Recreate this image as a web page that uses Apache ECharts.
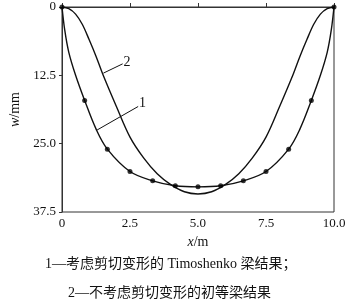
<!DOCTYPE html>
<html>
<head>
<meta charset="utf-8">
<script src="https://cdn.jsdelivr.net/npm/echarts@6/dist/echarts.min.js"></script>
<style>
html,body{margin:0;padding:0;background:#fff;}
#c{width:355px;height:307px;}
</style>
</head>
<body>
<div id="c"></div>
<script>
// Curve 1: Timoshenko beam (with markers)
const x1 = [0, 0.1, 0.25, 0.5, 0.833, 1.25, 1.667, 2.5, 3.333, 4.167, 5, 5.833, 6.667, 7.5, 8.333, 8.75, 9.167, 9.5, 9.75, 9.9, 10];
const w1 = [0, 4.2, 8.3, 12.5, 17.1, 22.3, 26.0, 30.1, 31.8, 32.7, 32.9, 32.7, 31.8, 30.1, 26.0, 22.3, 17.1, 12.5, 8.3, 4.2, 0];
// Markers on curve 1
const markX = [0, 0.833, 1.667, 2.5, 3.333, 4.167, 5, 5.833, 6.667, 7.5, 8.333, 9.167, 10];
const markW = [0, 17.1, 26.0, 30.1, 31.8, 32.7, 32.9, 32.7, 31.8, 30.1, 26.0, 17.1, 0];
// Curve 2: elementary beam
const x2 = [0, 0.25, 0.5, 0.75, 1, 1.25, 1.5, 2, 2.5, 3, 3.5, 4, 4.5, 5, 5.5, 6, 6.5, 7, 7.5, 8, 8.5, 8.75, 9, 9.25, 9.5, 9.75, 10];
const w2 = [0, 0.3, 1.3, 3.2, 6.0, 9.0, 12.3, 18.2, 23.8, 27.6, 30.5, 32.5, 33.8, 34.2, 33.8, 32.5, 30.5, 27.6, 23.8, 18.2, 12.3, 9.0, 6.0, 3.2, 1.3, 0.3, 0];
// Tick labels
const xTicks = ['0', '2.5', '5.0', '7.5', '10.0'];
const yTicks = ['0', '12.5', '25.0', '37.5'];
// Annotation labels (curve number, leader start, leader end, text position)
const labelNames = ['1', '2'];
const leaderStart = [[1.29, 22.5], [1.52, 12.1]];
const leaderEnd = [[2.80, 18.2], [2.23, 10.4]];
const labelPos = [[2.96, 17.7], [2.39, 10.2]];
// Caption
const caption1 = '1\u2014考虑剪切变形的 Timoshenko 梁结果；';
const caption2 = '2\u2014不考虑剪切变形的初等梁结果';

const serif = "'Liberation Serif','Noto Sans CJK SC',serif";
const lineColor = '#111';

function pairs(xs, ys){ return xs.map((x,i)=>[x, ys[i]]); }

function leader(i){
  return {
    silent: true,
    symbol: ['none','none'],
    lineStyle: {color: lineColor, width: 1, type: 'solid'},
    label: {show: false},
    data: [[{coord: leaderStart[i]}, {coord: leaderEnd[i]}]]
  };
}
function labelMark(i){
  return {
    silent: true,
    symbol: 'circle',
    symbolSize: 0,
    label: {show: true, position: 'inside', formatter: labelNames[i], color: lineColor, fontFamily: serif, fontSize: 14},
    data: [{coord: labelPos[i]}]
  };
}

const chart = echarts.init(document.getElementById('c'));
chart.setOption({
  animation: false,
  backgroundColor: '#fff',
  grid: {left: 52, right: 21, top: 7, bottom: 95, show: true, borderColor: '#333', borderWidth: 1},
  xAxis: {
    type: 'value', min: 0, max: 10, interval: 2.5,
    name: '{i|x}/m', nameLocation: 'middle', nameGap: 23,
    nameTextStyle: {fontFamily: serif, fontSize: 14, color: '#111', rich: {i: {fontStyle: 'italic', fontFamily: serif, fontSize: 14, color: '#111'}}},
    axisLine: {show: true, lineStyle: {color: '#333', width: 1}},
    axisTick: {show: true, inside: true, length: 4, lineStyle: {color: '#333'}},
    axisLabel: {fontFamily: serif, fontSize: 13, color: '#111', margin: 5,
      formatter: v => xTicks[Math.round(v / 2.5)]},
    splitLine: {show: false}
  },
  yAxis: {
    type: 'value', min: 0, max: 37.5, interval: 12.5, inverse: true,
    name: '{i|w}/mm', nameLocation: 'middle', nameGap: 40, nameRotate: 90,
    nameTextStyle: {fontFamily: serif, fontSize: 14, color: '#111', rich: {i: {fontStyle: 'italic', fontFamily: serif, fontSize: 14, color: '#111'}}},
    axisLine: {show: true, lineStyle: {color: '#333', width: 1}},
    axisTick: {show: true, inside: false, length: 3, lineStyle: {color: '#333'}},
    axisLabel: {fontFamily: serif, fontSize: 13, color: '#111', margin: 6,
      formatter: v => yTicks[Math.round(v / 12.5)]},
    splitLine: {show: false}
  },
  series: [
    {
      name: '1', type: 'line', data: pairs(x1, w1), smooth: 0.35, showSymbol: false,
      lineStyle: {color: lineColor, width: 1.4},
      markLine: leader(0), markPoint: labelMark(0), z: 3
    },
    {
      name: '2', type: 'line', data: pairs(x2, w2), smooth: 0.35, showSymbol: false,
      lineStyle: {color: lineColor, width: 1.4},
      markLine: leader(1), markPoint: labelMark(1), z: 3
    },
    {
      name: 'markers', type: 'scatter', data: pairs(markX, markW), symbol: 'circle', symbolSize: 5,
      itemStyle: {color: '#000'}, z: 4
    }
  ],
  graphic: [
    {type: 'text', left: 45, top: 257, style: {text: caption1, fontFamily: serif, fontSize: 14, fill: '#111'}},
    {type: 'text', left: 68, top: 286, style: {text: caption2, fontFamily: serif, fontSize: 14, fill: '#111'}}
  ]
});
</script>
</body>
</html>
